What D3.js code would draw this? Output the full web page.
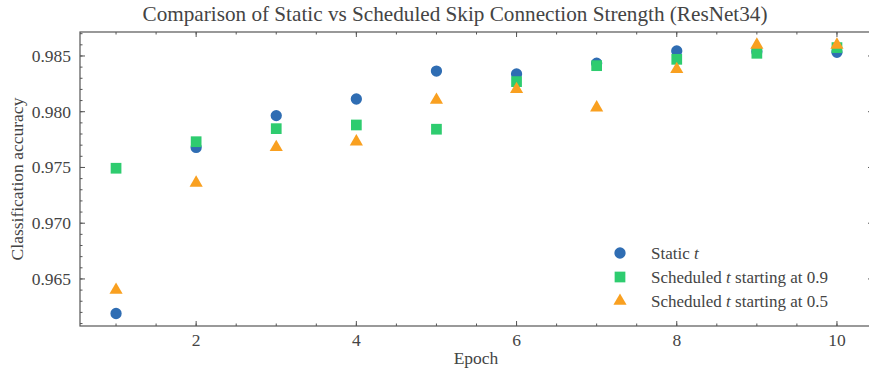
<!DOCTYPE html>
<html>
<head>
<meta charset="utf-8">
<script src="https://cdn.jsdelivr.net/npm/d3@7"></script>
<style>
  body { margin: 0; background: #fff; }
  svg { display: block; }
  text { font-family: "Liberation Serif", "DejaVu Serif", serif; fill: #444; }
</style>
</head>
<body>
<svg id="chart"></svg>
<script>
const epochs = [1, 2, 3, 4, 5, 6, 7, 8, 9, 10];
const staticT = [0.9619, 0.9768, 0.97965, 0.98114, 0.98365, 0.98339, 0.98435, 0.98545, 0.9854, 0.98533];
const sched09 = [0.97493, 0.97731, 0.97848, 0.97881, 0.97843, 0.9827, 0.98413, 0.9847, 0.98524, 0.98575];
const sched05 = [0.96401, 0.97362, 0.97681, 0.97731, 0.98105, 0.98201, 0.98036, 0.98381, 0.98599, 0.98599];
const xTicks = [2, 4, 6, 8, 10];
const yTicks = [0.965, 0.970, 0.975, 0.980, 0.985];
const seriesNames = ["Static t", "Scheduled t starting at 0.9", "Scheduled t starting at 0.5"];

const width = 869, height = 369;
const margin = { top: 32, right: -4, bottom: 43, left: 80 };

const svg = d3.select("#chart").attr("width", width).attr("height", height);

const x = d3.scaleLinear().domain([0.55, 10.45]).range([margin.left, width - margin.right]);
const y = d3.scaleLinear().domain([0.96078, 0.98715]).range([height - margin.bottom, margin.top]);

const plotL = x.range()[0], plotR = x.range()[1];
const plotT = y.range()[1], plotB = y.range()[0];

const axisColor = "#555";

// spines
svg.append("rect")
  .attr("x", plotL).attr("y", plotT)
  .attr("width", plotR - plotL).attr("height", plotB - plotT)
  .attr("fill", "none").attr("stroke", axisColor).attr("stroke-width", 1.2);

// ticks (inward, all four sides)
const xMinor = d3.range(1, 10.01, 0.5);
const yMinor = d3.range(0.961, 0.9875, 0.001);

function xTick(v, len) {
  svg.append("line").attr("x1", x(v)).attr("x2", x(v)).attr("y1", plotB).attr("y2", plotB - len)
    .attr("stroke", axisColor).attr("stroke-width", 1);
  svg.append("line").attr("x1", x(v)).attr("x2", x(v)).attr("y1", plotT).attr("y2", plotT + len)
    .attr("stroke", axisColor).attr("stroke-width", 1);
}
function yTick(v, len) {
  svg.append("line").attr("y1", y(v)).attr("y2", y(v)).attr("x1", plotL).attr("x2", plotL + len)
    .attr("stroke", axisColor).attr("stroke-width", 1);
  svg.append("line").attr("y1", y(v)).attr("y2", y(v)).attr("x1", plotR).attr("x2", plotR - len)
    .attr("stroke", axisColor).attr("stroke-width", 1);
}
xMinor.forEach(v => xTick(v, 2.5));
xTicks.forEach(v => xTick(v, 5));
yMinor.forEach(v => yTick(v, 2.5));
yTicks.forEach(v => yTick(v, 5));

// tick labels
svg.selectAll(".xlab").data(xTicks).enter().append("text")
  .attr("x", d => x(d)).attr("y", plotB + 20)
  .attr("text-anchor", "middle").attr("font-size", 17.5)
  .text(d => d);
svg.selectAll(".ylab").data(yTicks).enter().append("text")
  .attr("x", plotL - 9).attr("y", d => y(d) + 6)
  .attr("text-anchor", "end").attr("font-size", 17.5)
  .text(d => d3.format(".3f")(d));

// axis titles
svg.append("text")
  .attr("x", (plotL + 872) / 2).attr("y", plotB + 38)
  .attr("text-anchor", "middle").attr("font-size", 17.5)
  .text("Epoch");
svg.append("text")
  .attr("transform", `translate(23,${(plotT + plotB) / 2}) rotate(-90)`)
  .attr("text-anchor", "middle").attr("font-size", 17.5)
  .text("Classification accuracy");

svg.append("text")
  .attr("x", 455).attr("y", 21)
  .attr("text-anchor", "middle").attr("font-size", 21.2).attr("fill", "#333")
  .text("Comparison of Static vs Scheduled Skip Connection Strength (ResNet34)");

// markers
const colors = ["#2f6db3", "#2ecc6f", "#f9a020"];
const symbols = [d3.symbolCircle, d3.symbolSquare, d3.symbolTriangle];
const sizes = [100, 115, 75];
const allSeries = [staticT, sched09, sched05];

allSeries.forEach((vals, s) => {
  svg.selectAll(".pt" + s).data(vals).enter().append("path")
    .attr("d", d3.symbol().type(symbols[s]).size(sizes[s]))
    .attr("transform", (d, i) => `translate(${x(epochs[i])},${y(d)})`)
    .attr("fill", colors[s]);
});

// legend
const legY = [253, 277, 301];
seriesNames.forEach((name, s) => {
  svg.append("path")
    .attr("d", d3.symbol().type(symbols[s]).size(sizes[s]))
    .attr("transform", `translate(620,${legY[s]})`)
    .attr("fill", colors[s]);
  const t = svg.append("text").attr("x", 651).attr("y", legY[s] + 5.5).attr("font-size", 17);
  const parts = name.split(" t");
  t.append("tspan").text(parts[0] + " ");
  t.append("tspan").attr("font-style", "italic").text("t");
  if (parts[1]) t.append("tspan").text(parts[1]);
});
</script>
</body>
</html>
